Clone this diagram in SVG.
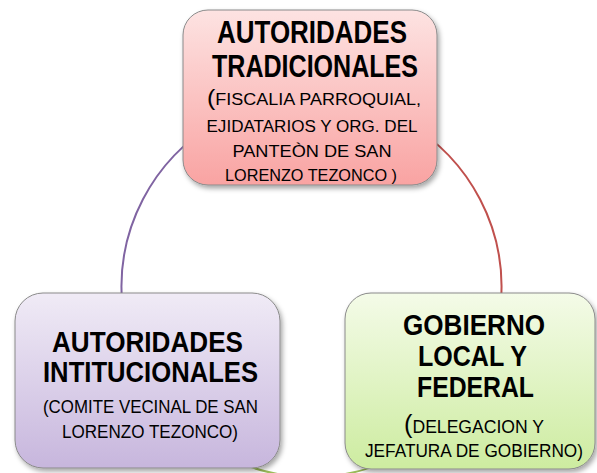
<svg xmlns="http://www.w3.org/2000/svg" width="597" height="473" viewBox="0 0 597 473">
<style>
.t{font-family:"Liberation Sans",Arial,sans-serif;font-weight:bold;fill:#000;text-anchor:middle}
.s{font-family:"Liberation Sans",Arial,sans-serif;fill:#000;text-anchor:middle}
.box{stroke:#8a8a8a;stroke-width:1;filter:url(#sh)}
.arc{fill:none;stroke-width:2}
</style>
<defs>
<linearGradient id="gr" x1="0" y1="0" x2="0" y2="1"><stop offset="0" stop-color="#fde3e2"/><stop offset="1" stop-color="#f9a3a2"/></linearGradient>
<linearGradient id="gp" x1="0" y1="0" x2="0" y2="1"><stop offset="0" stop-color="#f0ebf6"/><stop offset="1" stop-color="#c7b6dd"/></linearGradient>
<linearGradient id="gg" x1="0" y1="0" x2="0" y2="1"><stop offset="0" stop-color="#f4fbe8"/><stop offset="1" stop-color="#cdeca0"/></linearGradient>
<filter id="sh" x="-10%" y="-10%" width="125%" height="125%"><feDropShadow dx="2" dy="3" stdDeviation="2.5" flood-color="#000" flood-opacity="0.35"/></filter>
</defs>
<g id="connectors">
<path class="arc" stroke="#8064a2" d="M216.5 122.5 A190 190 0 0 0 122.2 303.6"/>
<path class="arc" stroke="#c0504d" d="M406.5 122.5 A190 190 0 0 1 500.8 303.6"/>
<path class="arc" stroke="#9bbb59" d="M406.5 451.5 A190 190 0 0 1 216.5 451.5"/>
</g>
<g id="tradicionales">
<rect class="box" x="183" y="10" width="254" height="175" rx="25" fill="url(#gr)"/>
<text class="t" font-size="31" x="312" y="43" textLength="190" lengthAdjust="spacingAndGlyphs">AUTORIDADES</text>
<text class="t" font-size="31" x="315" y="76.5" textLength="206" lengthAdjust="spacingAndGlyphs">TRADICIONALES</text>
<text class="s" font-size="16" x="314" y="105" textLength="214" lengthAdjust="spacingAndGlyphs"><tspan font-size="22">(</tspan>FISCALIA PARROQUIAL,</text>
<text class="s" font-size="16" x="312" y="132" textLength="211" lengthAdjust="spacingAndGlyphs">EJIDATARIOS Y ORG. DEL</text>
<text class="s" font-size="16" x="312" y="157" textLength="159" lengthAdjust="spacingAndGlyphs">PANTEÒN DE SAN</text>
<text class="s" font-size="16" x="311" y="181" textLength="172" lengthAdjust="spacingAndGlyphs">LORENZO TEZONCO )</text>
</g>
<g id="institucionales">
<rect class="box" x="15" y="293" width="265" height="175" rx="28" fill="url(#gp)"/>
<text class="t" font-size="29"><tspan x="147.5" y="352" textLength="191" lengthAdjust="spacingAndGlyphs">AUTORIDADES</tspan><tspan x="150.5" y="382" textLength="215" lengthAdjust="spacingAndGlyphs">INTITUCIONALES</tspan></text>
<text class="s" font-size="18" x="150.5" y="413" textLength="215" lengthAdjust="spacingAndGlyphs">(COMITE VECINAL DE SAN</text>
<text class="s" font-size="18" x="150" y="438" textLength="176" lengthAdjust="spacingAndGlyphs">LORENZO TEZONCO)</text>
</g>
<g id="gobierno">
<rect class="box" x="345" y="293" width="250" height="176" rx="26" fill="url(#gg)"/>
<text class="t" font-size="29"><tspan x="474" y="335" textLength="142" lengthAdjust="spacingAndGlyphs">GOBIERNO</tspan><tspan x="472.5" y="366" textLength="109" lengthAdjust="spacingAndGlyphs">LOCAL Y</tspan><tspan x="475.5" y="397" textLength="117" lengthAdjust="spacingAndGlyphs">FEDERAL</tspan></text>
<text class="s" font-size="18"><tspan x="474" y="433" textLength="140" lengthAdjust="spacingAndGlyphs"><tspan font-size="26">(</tspan>DELEGACION  Y</tspan><tspan x="474" y="456.5" textLength="218" lengthAdjust="spacingAndGlyphs">JEFATURA DE GOBIERNO)</tspan></text>
</g>
</svg>
